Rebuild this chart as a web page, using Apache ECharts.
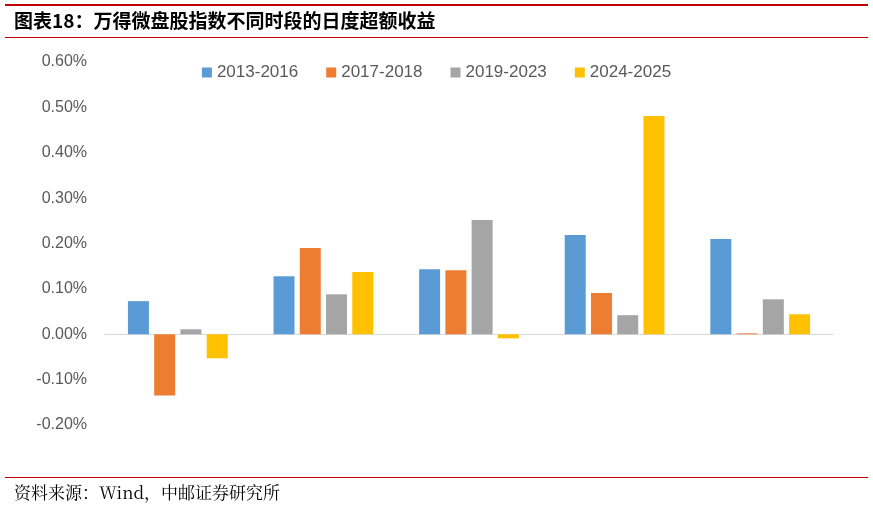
<!DOCTYPE html>
<html><head><meta charset="utf-8">
<script src="https://cdn.jsdelivr.net/npm/echarts@6/dist/echarts.min.js"></script>
<style>html,body{margin:0;padding:0;background:#fff}#c{width:873px;height:510px}</style>
</head><body><div id="c"></div>
<script>
const categories = ['星期一','星期二','星期三','星期四','星期五'];
const seriesNames = ['2013-2016','2017-2018','2019-2023','2024-2025'];
const s2013 = [0.073, 0.128, 0.143, 0.219, 0.210];
const s2017 = [-0.135, 0.190, 0.141, 0.091, 0.002];
const s2019 = [0.011, 0.088, 0.252, 0.042, 0.077];
const s2024 = [-0.053, 0.137, -0.009, 0.481, 0.044];
const colors = ['#5B9BD5','#ED7D31','#A5A5A5','#FFC000'];
const chart = echarts.init(document.getElementById('c'));
const data = [s2013, s2017, s2019, s2024];
chart.setOption({
  animation:false,
  color: colors,
  graphic:[
    {type:'rect',shape:{x:5,y:4,width:863,height:2},style:{fill:'#C00000'}},
    {type:'text',left:14,top:11,style:{text:'图表18：万得微盘股指数不同时段的日度超额收益',font:'bold 19px "Noto Sans CJK SC"',fill:'#000'}},
    {type:'rect',shape:{x:5,y:37,width:863,height:1},style:{fill:'#C00000'}},
    {type:'rect',shape:{x:5,y:477,width:863,height:1},style:{fill:'#C00000'}},
    {type:'text',left:14,top:484,style:{text:'资料来源：Wind，中邮证券研究所',font:'17px "Noto Serif CJK SC","Noto Sans CJK SC"',fill:'#000'}}
  ],
  legend:{top:59,left:'center',itemWidth:10,itemHeight:10,itemGap:28,
    textStyle:{fontSize:17,color:'#595959',fontFamily:'Arial, Liberation Sans'},
    data:seriesNames, icon:'rect'},
  grid:{left:105,right:40,top:62,bottom:85,outerBoundsMode:'none'},
  xAxis:{type:'category',data:categories,
    axisLine:{lineStyle:{color:'#D9D9D9'}},axisTick:{show:false},
    axisLabel:{margin:105,fontSize:15,color:'#595959',fontFamily:'"Noto Serif CJK SC","Noto Sans CJK SC"'}},
  yAxis:{type:'value',min:-0.2,max:0.6,interval:0.1,
    splitLine:{show:false},axisLine:{show:false},axisTick:{show:false},
    axisLabel:{fontSize:16,color:'#595959',margin:18,fontFamily:'Arial, Liberation Sans',formatter:v=>v.toFixed(2)+'%'}},
  series: seriesNames.map((n,i)=>({name:n,type:'bar',data:data[i],barWidth:21,barGap:'25%'}))
});
</script></body></html>
